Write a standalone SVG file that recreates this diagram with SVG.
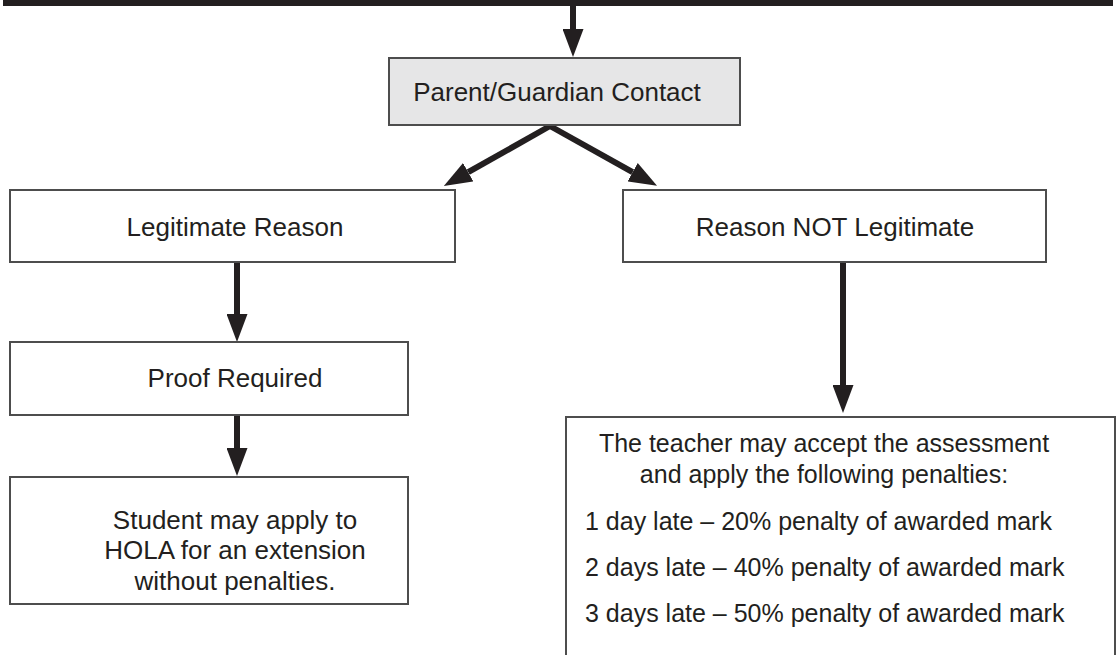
<svg xmlns="http://www.w3.org/2000/svg" width="1117" height="655" viewBox="0 0 1117 655">
<style>
  .box { fill: #ffffff; stroke: #4d4d4d; stroke-width: 2; }
  .gray { fill: #e6e6e7; }
  .t { font-family: "Liberation Sans", Arial, Helvetica, sans-serif; font-size: 26px; fill: #231f20; }
  .s { font-size: 25px; }
  .c { text-anchor: middle; }
  .arr { stroke: #231f20; stroke-width: 6; fill: none; marker-end: url(#head); }
</style>
<defs>
  <marker id="head" viewBox="0 0 28 21" markerWidth="28" markerHeight="21" refX="0" refY="10.5" orient="auto" markerUnits="userSpaceOnUse">
    <path d="M0,0 L28,10.5 L0,21 Z" fill="#231f20"/>
  </marker>
</defs>
<rect x="0" y="0" width="1117" height="655" fill="#ffffff"/>
<rect id="topbar" x="3" y="0" width="1110" height="6" fill="#231f20"/>
<g id="connectors">
  <line class="arr" x1="573" y1="6" x2="573" y2="29"/>
  <line class="arr" x1="550" y1="126" x2="468.2" y2="172.2"/>
  <line class="arr" x1="550" y1="126" x2="632.6" y2="172.2"/>
  <line class="arr" x1="237" y1="263" x2="237" y2="314"/>
  <line class="arr" x1="237" y1="415" x2="237" y2="448"/>
  <line class="arr" x1="843" y1="263" x2="843" y2="385"/>
</g>
<g id="parent">
  <rect class="box gray" x="389" y="58" width="351" height="67"/>
  <text class="t c" x="557" y="101">Parent/Guardian Contact</text>
</g>
<g id="legitimate">
  <rect class="box" x="10" y="190" width="445" height="72"/>
  <text class="t c" x="235" y="236">Legitimate Reason</text>
</g>
<g id="not-legitimate">
  <rect class="box" x="623" y="190" width="423" height="72"/>
  <text class="t c" x="835" y="236">Reason NOT Legitimate</text>
</g>
<g id="proof">
  <rect class="box" x="10" y="342" width="398" height="73"/>
  <text class="t c" x="235" y="387">Proof Required</text>
</g>
<g id="student">
  <rect class="box" x="10" y="477" width="398" height="127"/>
  <text class="t c" x="235" y="529">Student may apply to</text>
  <text class="t c" x="235" y="559">HOLA for an extension</text>
  <text class="t c" x="235" y="590">without penalties.</text>
</g>
<g id="penalties">
  <rect class="box" x="566" y="417" width="549" height="260"/>
  <text class="t s c" x="824" y="452">The teacher may accept the assessment</text>
  <text class="t s c" x="824" y="483">and apply the following penalties:</text>
  <text class="t s" x="585" y="530">1 day late – 20% penalty of awarded mark</text>
  <text class="t s" x="585" y="576">2 days late – 40% penalty of awarded mark</text>
  <text class="t s" x="585" y="622">3 days late – 50% penalty of awarded mark</text>
</g>
</svg>
